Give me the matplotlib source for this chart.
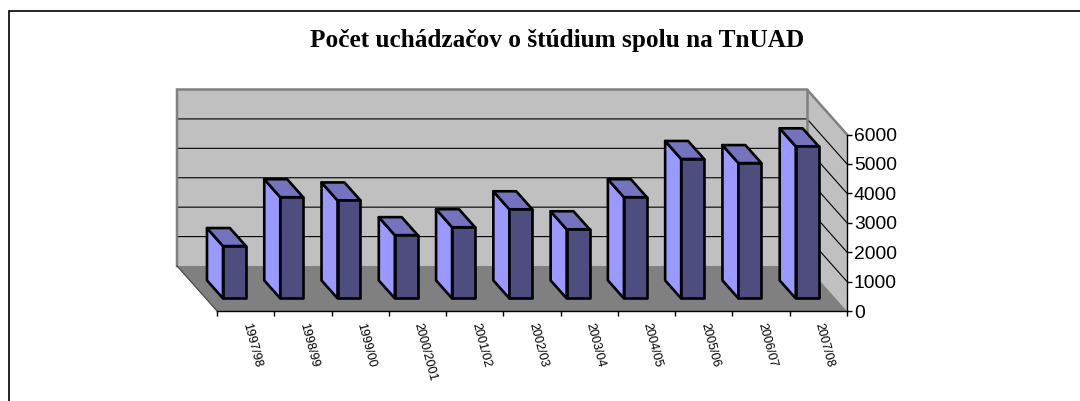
import matplotlib
matplotlib.use('Agg')
import matplotlib.pyplot as plt
from matplotlib.lines import Line2D
from matplotlib.patches import Polygon

W, H = 1080, 401

title = 'Počet uchádzačov o štúdium spolu na TnUAD'
years = ['1997/98', '1998/99', '1999/00', '2000/2001', '2001/02', '2002/03',
         '2003/04', '2004/05', '2005/06', '2006/07', '2007/08']
applicants = [1780, 3440, 3330, 2150, 2420, 3030, 2350, 3440, 4740, 4600, 5170]
y_ticks = [0, 1000, 2000, 3000, 4000, 5000, 6000]

# oblique projection, depth 0 = front of the floor, depth 1 = back wall
DEPTH_X = -40 / 57.27
DEPTH_Y = 45 / 176.5 * 6000
BAR_WIDTH = 0.4
BAR_D0, BAR_D1 = 0.28, 0.68


def proj(x, v, d):
    return (x + d * DEPTH_X, v + d * DEPTH_Y)


def face(ax, pts, color, edge='none', lw=0, z=1):
    ax.add_patch(Polygon([proj(*p) for p in pts], closed=True, facecolor=color,
                         edgecolor=edge, linewidth=lw, joinstyle='round',
                         clip_on=False, zorder=z))


plt.rcParams['font.family'] = ['Liberation Sans', 'DejaVu Sans']

fig = plt.figure(figsize=(W / 100, H / 100), dpi=100, facecolor='white')
ax = fig.add_axes([217 / W, 1 - 311 / H, 630 / W, 176.5 / H])
n = len(years)
ax.set_xlim(0, n)
ax.set_ylim(0, 6000)
ax.patch.set_visible(False)

# walls and floor
wall = '#C0C0C0'
top = y_ticks[-1]
face(ax, [(0, 0, 1), (n, 0, 1), (n, top, 1), (0, top, 1)], wall)
face(ax, [(n, 0, 1), (n, 0, 0), (n, top, 0), (n, top, 1)], wall)
face(ax, [(0, 0, 1), (n, 0, 1), (n, 0, 0), (0, 0, 0)], '#808080')

for v in y_ticks[1:-1]:
    xs, ys = zip(proj(0, v, 1), proj(n, v, 1), proj(n, v, 0))
    ax.plot(xs, ys, color='black', lw=0.8, clip_on=False, zorder=2)

xs, ys = zip(proj(0, 0, 1), proj(0, top, 1), proj(n, top, 1), proj(n, top, 0))
ax.plot(xs, ys, color='#808080', lw=1.8, clip_on=False, zorder=2, solid_joinstyle='miter')
xs, ys = zip(proj(n, top, 1), proj(n, 0, 1))
ax.plot(xs, ys, color='#808080', lw=1.8, clip_on=False, zorder=2)
xs, ys = zip(proj(0, 0, 1), proj(0, 0, 0))
ax.plot(xs, ys, color='#404040', lw=0.8, clip_on=False, zorder=2)

# bars
for i, val in enumerate(applicants):
    x0 = i + 0.5 - BAR_WIDTH / 2
    x1 = i + 0.5 + BAR_WIDTH / 2
    d0, d1 = BAR_D0, BAR_D1
    z = 3 + i
    face(ax, [(x0, 0, d0), (x0, 0, d1), (x0, val, d1), (x0, val, d0)],
         '#9999FF', 'black', 1.9, z)
    face(ax, [(x0, val, d0), (x0, val, d1), (x1, val, d1), (x1, val, d0)],
         '#7373BF', 'black', 1.9, z)
    face(ax, [(x0, 0, d0), (x1, 0, d0), (x1, val, d0), (x0, val, d0)],
         '#4D4D80', 'black', 1.9, z)

# axes
for name in ['top', 'left']:
    ax.spines[name].set_visible(False)
ax.spines['bottom'].set_linewidth(1.0)
ax.spines['right'].set_linewidth(1.0)
ax.yaxis.tick_right()
ax.set_yticks(y_ticks)
ax.tick_params(axis='y', labelsize=13.9, length=3.5, width=1.0, pad=1.5)
ax.set_xticks(range(n + 1))
ax.set_xticklabels([])
ax.set_xticks([i + 0.5 for i in range(n)], labels=years, minor=True)
ax.tick_params(axis='x', which='major', length=3.5, width=1.0)
ax.tick_params(axis='x', which='minor', length=0, pad=9, labelsize=9)
for lab in ax.get_xticklabels(minor=True):
    lab.set_rotation(-75)
    lab.set_rotation_mode('anchor')
    lab.set_ha('left')
    lab.set_va('center')

fig.text(557.5 / W, 1 - 47.5 / H, title, family='Liberation Serif', weight='bold',
         fontsize=18.2, ha='center', va='baseline')

# chart frame, cut by the picture on the right and at the bottom
fig.add_artist(Line2D([9.3 / W, 9.3 / W, 1], [0, 1 - 10.7 / H, 1 - 10.7 / H],
                      color='black', lw=1.2, solid_joinstyle='miter'))

fig.savefig('out.png', dpi=100)
